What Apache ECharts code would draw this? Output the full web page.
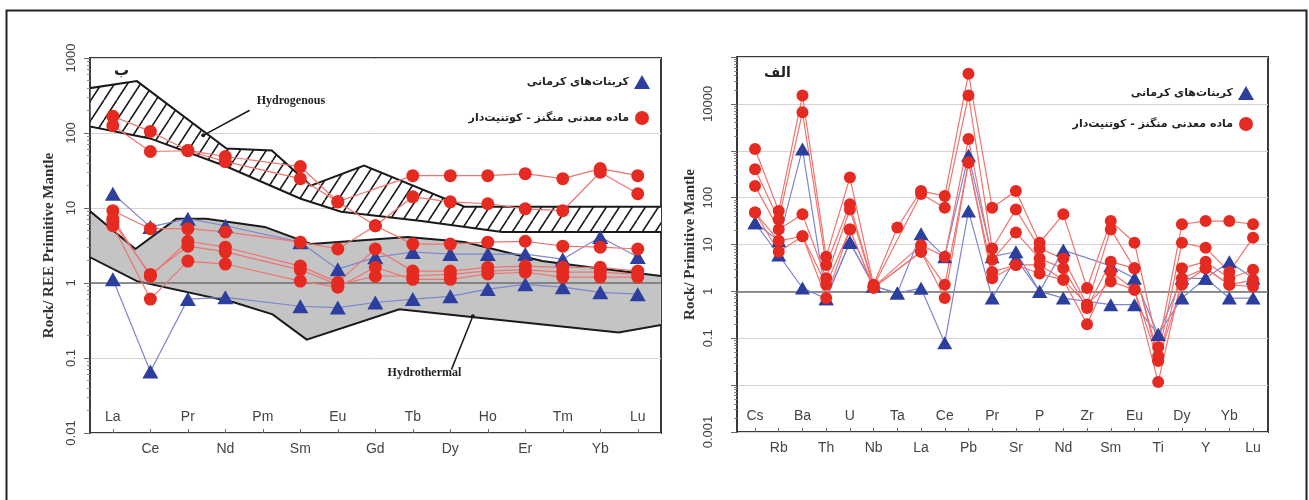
<!DOCTYPE html>
<html>
<head>
<meta charset="utf-8">
<title>Primitive mantle normalised patterns</title>
<script src="https://cdn.jsdelivr.net/npm/echarts@6/dist/echarts.min.js"></script>
<style>
  html, body { margin: 0; padding: 0; background: #fff; }
  #chart { width: 1309px; height: 500px; }
</style>
</head>
<body>
<div id="chart"></div>
<script>
/* ---- left panel (ب): REE ---- */
var reeElements = ['La','Ce','Pr','Nd','Pm','Sm','Eu','Gd','Tb','Dy','Ho','Er','Tm','Yb','Lu'];
var reeTickLabels = ['0.01','0.1','1','10','100','1000'];   // exponent -2 .. 3

var reeBlue1 = [1.12, 0.066, 0.61, 0.645, null, 0.49, 0.47, 0.55, 0.61, 0.665, 0.83, 0.96, 0.88, 0.75, 0.71];
var reeBlue2 = [15.5, 5.6, 7.2, 5.8, null, 3.5, 1.53, 2.2, 2.59, 2.43, 2.43, 2.43, 2.08, 4.1, 2.22];

var reeRed1 = [167, 105, 58.5, 48.6, null, 35.7, 12.1, null, 27, 27, 27, 28.7, 24.6, 33.5, 27];
var reeRed2 = [126, 56.7, 58, 41.6, null, 24.6, 12.1, 5.8, 14.1, 12.1, 11.4, 9.75, 9.2, 30, 15.5];
var reeRed3 = [9.2, 5.3, 5.3, 4.8, null, 3.5, 2.84, 5.8, 3.3, 3.3, 3.5, 3.6, 3.1, 3.0, 2.84];
var reeRed4 = [7.2, 1.23, 3.6, 3.0, null, 1.68, 1.02, 2.84, 1.44, 1.44, 1.62, 1.68, 1.62, 1.62, 1.44];
var reeRed5 = [5.8, 0.61, 1.96, 1.79, null, 1.06, 0.88, 1.62, 1.12, 1.12, 1.32, 1.39, 1.2, 1.2, 1.2];
var reeRed6 = [6.5, 1.3, 3.1, 2.6, null, 1.5, 0.95, 1.23, 1.25, 1.3, 1.45, 1.5, 1.4, 1.4, 1.3];

// fields: [element position, value]
var hydrogenousTop = [[-0.62, 396], [0.64, 492], [3.03, 62], [4.24, 58.5], [5.28, 19.9], [6.70, 36.8], [9.38, 10.4], [14.7, 10.4]];
var hydrogenousBottom = [[-0.62, 122], [0.99, 84.7], [3.03, 35.7], [5.01, 13.3], [6.09, 8.9], [8.23, 6.7], [10.38, 4.8], [14.7, 4.8]];
var hydrothermalTop = [[-0.62, 9.17], [0.60, 2.84], [1.69, 7.17], [2.49, 7.17], [4.05, 5.6], [5.28, 3.31], [7.86, 4.11], [9.38, 3.52], [11.45, 1.96], [12.47, 1.68], [14.7, 1.23]];
var hydrothermalBottom = [[-0.62, 2.22], [0.64, 1.06], [3.22, 0.553], [4.26, 0.382], [5.17, 0.176], [7.64, 0.446], [9.38, 0.359], [13.49, 0.219], [14.7, 0.28]];

var fieldNames = ['Hydrogenous', 'Hydrothermal'];
var fieldLabelAt = [[4.75, 265], [8.31, 0.064]];
var fieldLeader = [[[3.65, 201], [2.41, 93]], [[9.03, 0.07], [9.6, 0.36]]];

/* ---- right panel (الف): spider diagram ---- */
var traceElements = ['Cs','Rb','Ba','Th','U','Nb','Ta','La','Ce','Pb','Pr','Sr','P','Nd','Zr','Sm','Eu','Ti','Dy','Y','Yb','Lu'];
var traceTickLabels = ['0.001','','0.1','1','10','100','','10000',''];   // exponent -3 .. 5

var traceBlue1 = [29, 12, 1086, 0.7, 11.4, 1.3, 0.92, 17, 5.5, 800, 5.5, 7, 1.0, 7.6, null, 3.5, 1.9, 0.12, 1.9, 1.9, 4.3, 1.9];
var traceBlue2 = [29, 6, 1.18, 0.7, 11, 1.3, 0.92, 1.17, 0.08, 52, 0.72, 5, 1.0, 0.72, null, 0.52, 0.52, 0.12, 0.72, 1.9, 0.72, 0.72];

var traceRed1 = [1086, 52, 15100, 5.5, 268, 1.38, 23, 139, 108, 44000, 61, 139, 10.9, 44, 1.18, 31.6, 10.9, 0.064, 27, 31.6, 31.6, 27];
var traceRed2 = [405, 34, 6630, 3.66, 72, 1.3, null, 120, 61, 15100, 8.2, 56, 8.2, 5, 0.52, 21, 3.1, 0.042, 10.9, 8.5, 2.6, 14];
var traceRed3 = [178, 21, 44, 1.9, 56, 1.25, null, 9.7, 5.5, 1780, 4.7, 18, 5, 3.1, 0.44, 4.3, 3.1, 0.033, 3.1, 4.3, 1.9, 2.9];
var traceRed4 = [48, 12, 15, 1.38, 21, 1.2, null, 7, 1.38, 562, 2.6, 3.66, 3.66, 1.76, 0.2, 2.6, 1.08, 0.0116, 1.9, 3.1, 1.38, 1.76];
var traceRed5 = [48, 7, 15, 0.72, 21, 1.2, null, 7, 0.72, 562, 1.9, 3.66, 2.4, 1.76, 0.52, 1.63, 1.08, 0.033, 1.38, 3.1, 1.38, 1.27];

var blueName = 'کربنات‌های کرمانی';
var redName = 'ماده معدنی منگنز - کوتنیت‌دار';

var BLUE = '#2c3f9f', BLUE_LINE = '#7d86cf';
var RED = '#e52b21', RED_LINE = '#ee7470';
var LABEL_FONT = 'Liberation Sans';

/* hatch tile for the hydrogenous field */
var hatch = document.createElement('canvas');
hatch.width = 13; hatch.height = 20;
var hctx = hatch.getContext('2d');
hctx.fillStyle = '#fff';
hctx.fillRect(0, 0, 13, 20);
hctx.strokeStyle = '#1a1a1a';
hctx.lineWidth = 1.6;
hctx.beginPath();
[-1, 0, 1].forEach(function (k) {
    hctx.moveTo(k * 13, 20);
    hctx.lineTo(k * 13 + 13, 0);
});
hctx.stroke();

function pairs(values) {
    var out = [];
    values.forEach(function (v, i) {
        if (v != null) out.push([i, v]);
    });
    return out;
}

function xAxes(gridIndex, names, min, max) {
    var all = [], even = [], odd = [];
    names.forEach(function (n, i) {
        all.push(i);
        (i % 2 === 0 ? even : odd).push(i);
    });
    var fmt = function (v) { return names[Math.round(v)] || ''; };
    return [{
        type: 'value', gridIndex: gridIndex, position: 'bottom', min: min, max: max,
        axisLine: { show: false, onZero: false }, splitLine: { show: false },
        axisTick: { show: true, inside: true, length: 4, customValues: all, lineStyle: { color: '#666' } },
        axisLabel: { inside: true, margin: 9, customValues: even, formatter: fmt,
            fontFamily: LABEL_FONT, fontSize: 14, color: '#444' }
    }, {
        type: 'value', gridIndex: gridIndex, position: 'bottom', min: min, max: max,
        axisLine: { show: false, onZero: false }, splitLine: { show: false }, axisTick: { show: false },
        axisLabel: { margin: 9, customValues: odd, formatter: fmt,
            fontFamily: LABEL_FONT, fontSize: 14, color: '#444' }
    }];
}

function yAxis(gridIndex, min, max, labels, firstExp, name, nameGap, margin) {
    return {
        type: 'log', logBase: 10, gridIndex: gridIndex, min: min, max: max,
        splitNumber: labels.length - 1,
        name: name, nameLocation: 'middle', nameRotate: 90, nameGap: nameGap,
        nameTextStyle: { fontFamily: 'Liberation Serif', fontWeight: 'bold', fontSize: 15, color: '#333' },
        axisLine: { show: true, onZero: false, lineStyle: { color: '#3a3a3a', width: 2 } },
        axisTick: { show: true, length: 6, lineStyle: { color: '#666' } },
        minorTick: { show: true, splitNumber: 9, length: 3, lineStyle: { color: '#888' } },
        axisLabel: {
            rotate: 90, margin: margin, fontFamily: LABEL_FONT, fontSize: 13, color: '#444',
            formatter: function (v) {
                var e = Math.round(Math.log(v) / Math.LN10);
                return labels[e - firstExp] || '';
            }
        },
        splitLine: { show: true, lineStyle: { color: '#dbd0d0', width: 1 } }
    };
}

function sample(values, isBlue, axisIndex, size) {
    return {
        name: isBlue ? blueName : redName,
        type: 'line',
        xAxisIndex: axisIndex, yAxisIndex: axisIndex / 2,
        data: pairs(values),
        z: 5,
        symbol: isBlue ? 'triangle' : 'circle',
        symbolSize: isBlue ? [size + 3, size + 1] : size,
        showAllSymbol: true,
        itemStyle: { color: isBlue ? BLUE : RED },
        lineStyle: { color: isBlue ? BLUE_LINE : RED_LINE, width: 1.2 },
        emphasis: { disabled: true },
        silent: true
    };
}

function field(top, bottom, fill) {
    return {
        type: 'custom', xAxisIndex: 0, yAxisIndex: 0, z: 2, silent: true, clip: true,
        data: [[0, 1]],
        renderItem: function (params, api) {
            var pts = top.concat(bottom.slice().reverse()).map(function (p) { return api.coord(p); });
            return {
                type: 'polygon',
                shape: { points: pts },
                style: { fill: fill, stroke: '#1a1a1a', lineWidth: 2 }
            };
        }
    };
}

var unitLine = {
    silent: true, symbol: 'none', label: { show: false },
    lineStyle: { color: '#6e6e6e', type: 'solid', width: 1.5 },
    data: [{ yAxis: 1 }]
};

var series = [
    field(hydrogenousTop, hydrogenousBottom, { image: hatch, repeat: 'repeat' }),
    field(hydrothermalTop, hydrothermalBottom, '#c4c4c4'),
    {
        type: 'custom', xAxisIndex: 0, yAxisIndex: 0, z: 3, silent: true,
        data: fieldNames.map(function (n, i) { return [fieldLabelAt[i][0], fieldLabelAt[i][1], i]; }),
        renderItem: function (params, api) {
            var i = params.dataIndex;
            var at = api.coord(fieldLabelAt[i]);
            var a = api.coord(fieldLeader[i][0]);
            var b = api.coord(fieldLeader[i][1]);
            return {
                type: 'group',
                children: [
                    { type: 'line', shape: { x1: a[0], y1: a[1], x2: b[0], y2: b[1] },
                      style: { stroke: '#1a1a1a', lineWidth: 1.5 } },
                    { type: 'circle', shape: { cx: b[0], cy: b[1], r: 2 }, style: { fill: '#1a1a1a' } },
                    { type: 'text', x: at[0], y: at[1],
                      style: { text: fieldNames[i], fontFamily: 'Liberation Serif', fontWeight: 'bold',
                               fontSize: 12, fill: '#222', align: 'center', verticalAlign: 'middle' } }
                ]
            };
        }
    }
];

var leftBlue = [reeBlue1, reeBlue2];
var leftRed = [reeRed1, reeRed2, reeRed3, reeRed4, reeRed5, reeRed6];
var rightBlue = [traceBlue1, traceBlue2];
var rightRed = [traceRed1, traceRed2, traceRed3, traceRed4, traceRed5];

leftBlue.forEach(function (v) { series.push(sample(v, true, 0, 13)); });
leftRed.forEach(function (v) { series.push(sample(v, false, 0, 13)); });
rightBlue.forEach(function (v) { series.push(sample(v, true, 2, 12)); });
rightRed.forEach(function (v) { series.push(sample(v, false, 2, 12)); });

// darker grid line at unity in both panels
series[3].markLine = unitLine;
series[3 + leftBlue.length + leftRed.length].markLine = unitLine;

var legendBase = {
    orient: 'vertical', align: 'right', itemWidth: 16, itemHeight: 14,
    selectedMode: false,
    textStyle: { fontFamily: 'DejaVu Sans', fontWeight: 'bold', fontSize: 11, color: '#222' },
    data: [{ name: blueName, icon: 'triangle' }, { name: redName, icon: 'circle' }]
};

var box = document.getElementById('chart');
var myChart = echarts.init(box, null, { renderer: 'canvas' });

var option = {
    animation: false,
    backgroundColor: '#fff',
    grid: [
        { left: 90, top: 58, width: 571, height: 375, show: true, borderColor: '#3a3a3a', borderWidth: 2, backgroundColor: 'transparent' },
        { left: 737, top: 57, width: 531, height: 375, show: true, borderColor: '#3a3a3a', borderWidth: 2, backgroundColor: 'transparent' }
    ],
    xAxis: xAxes(0, reeElements, -0.61, 14.62).concat(xAxes(1, traceElements, -0.76, 21.63)),
    yAxis: [
        yAxis(0, 0.01, 1000, reeTickLabels, -2, 'Rock/ REE Primitive Mantle', 33, 12),
        yAxis(1, 0.001, 100000, traceTickLabels, -3, 'Rock/ Primitive Mantle', 39, 22)
    ],
    legend: [
        echarts.util.extend({ right: 654, top: 70, itemGap: 22 }, legendBase),
        echarts.util.extend({ right: 50, top: 81, itemGap: 17 }, legendBase)
    ],
    graphic: [
        { type: 'rect', left: 4, top: 8, shape: { width: 1300, height: 600 },
          style: { fill: 'none', stroke: '#222', lineWidth: 2 }, silent: true },
        { type: 'text', left: 114, top: 64,
          style: { text: 'ب', fontFamily: 'DejaVu Sans', fontWeight: 'bold', fontSize: 15, fill: '#222' } },
        { type: 'text', left: 764, top: 66,
          style: { text: 'الف', fontFamily: 'DejaVu Sans', fontWeight: 'bold', fontSize: 14, fill: '#222' } }
    ],
    series: series
};

myChart.setOption(option);
</script>
</body>
</html>
